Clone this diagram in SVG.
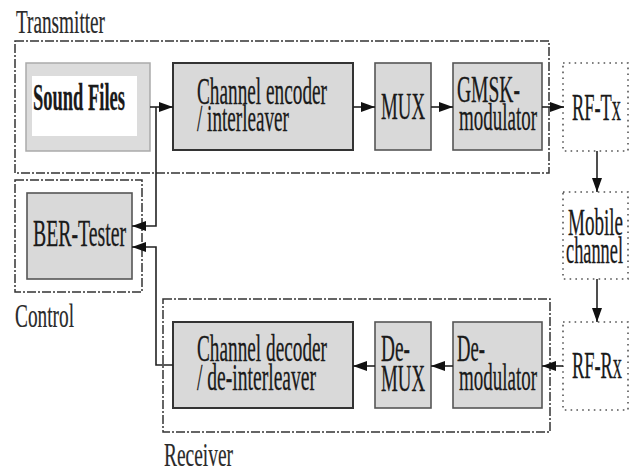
<svg xmlns="http://www.w3.org/2000/svg" width="631" height="470" viewBox="0 0 631 470">
<style>
.grp{fill:none;stroke:#333;stroke-width:1.5;stroke-dasharray:9 2 2 2}
.dot{fill:#fff;stroke:#555;stroke-width:1.6;stroke-dasharray:1.6 4.2}
.blk{fill:#d9d9d9;stroke:#555;stroke-width:1.6}
.blk2{fill:#d9d9d9;stroke:#333;stroke-width:2}
.t{font-family:"Liberation Serif","Times New Roman",serif;font-size:37px;fill:#1a1a1a;stroke:#1a1a1a;stroke-width:0.3}
.lbl{font-family:"Liberation Serif","Times New Roman",serif;font-size:33px;fill:#2a2a2a;stroke:#2a2a2a;stroke-width:0.2}
.ln{fill:none;stroke:#222;stroke-width:1.6}
</style>
<defs>
<marker id="ah" viewBox="0 0 14 10" refX="14" refY="5" markerWidth="14" markerHeight="10" markerUnits="userSpaceOnUse" orient="auto">
<path d="M0,0 L14,5 L0,10 Z" fill="#111"/>
</marker>
</defs>
<rect width="631" height="470" fill="#fff"/>

<g id="transmitter">
<rect class="grp" x="15" y="41" width="534" height="132"/>
<text class="lbl" x="16" y="33" textLength="89" lengthAdjust="spacingAndGlyphs">Transmitter</text>
</g>
<g id="control">
<rect class="grp" x="15" y="180" width="127" height="112"/>
<text class="lbl" x="15" y="327" textLength="59" lengthAdjust="spacingAndGlyphs">Control</text>
</g>
<g id="receiver">
<rect class="grp" x="163" y="299" width="387" height="133"/>
<text class="lbl" x="164" y="466" textLength="69" lengthAdjust="spacingAndGlyphs">Receiver</text>
</g>

<g id="sound-files">
<rect x="26" y="63" width="124" height="88" fill="#dcdcdc" stroke="#aaa" stroke-width="1.5"/>
<rect x="32" y="76" width="105" height="60" fill="#fff"/>
<text class="t" x="33" y="110" font-weight="bold" font-size="37" textLength="92" lengthAdjust="spacingAndGlyphs">Sound Files</text>
</g>
<g id="channel-encoder">
<rect class="blk2" x="173" y="63" width="180" height="87"/>
<text class="t" x="197" y="104" textLength="130" lengthAdjust="spacingAndGlyphs">Channel encoder</text>
<text class="t" x="197" y="131" textLength="92" lengthAdjust="spacingAndGlyphs">/ interleaver</text>
</g>
<g id="mux">
<rect class="blk" x="375" y="63" width="56" height="87"/>
<text class="t" x="381" y="119" font-size="38" textLength="44" lengthAdjust="spacingAndGlyphs">MUX</text>
</g>
<g id="gmsk-modulator">
<rect class="blk" x="453" y="63" width="89" height="87"/>
<text class="t" x="457" y="102" textLength="63" lengthAdjust="spacingAndGlyphs">GMSK-</text>
<text class="t" x="459" y="130" textLength="78" lengthAdjust="spacingAndGlyphs">modulator</text>
</g>
<g id="rf-tx">
<rect class="dot" x="563" y="63" width="65" height="88"/>
<text class="t" x="572" y="120" textLength="49" lengthAdjust="spacingAndGlyphs">RF-Tx</text>
</g>
<g id="mobile-channel">
<rect class="dot" x="563" y="192" width="65" height="87"/>
<text class="t" x="568" y="235" textLength="55" lengthAdjust="spacingAndGlyphs">Mobile</text>
<text class="t" x="566" y="263" textLength="57" lengthAdjust="spacingAndGlyphs">channel</text>
</g>
<g id="rf-rx">
<rect class="dot" x="563" y="322" width="65" height="88"/>
<text class="t" x="572" y="378" textLength="50" lengthAdjust="spacingAndGlyphs">RF-Rx</text>
</g>
<g id="ber-tester">
<rect class="blk" x="27" y="193" width="105" height="86"/>
<text class="t" x="33" y="246" font-size="38" textLength="93" lengthAdjust="spacingAndGlyphs">BER-Tester</text>
</g>
<g id="channel-decoder">
<rect class="blk2" x="173" y="322" width="180" height="86"/>
<text class="t" x="197" y="361" textLength="130" lengthAdjust="spacingAndGlyphs">Channel decoder</text>
<text class="t" x="197" y="390" textLength="119" lengthAdjust="spacingAndGlyphs">/ de-interleaver</text>
</g>
<g id="de-mux">
<rect class="blk" x="375" y="322" width="56" height="86"/>
<text class="t" x="381" y="361" textLength="29" lengthAdjust="spacingAndGlyphs">De-</text>
<text class="t" x="381" y="391" font-size="38" textLength="44" lengthAdjust="spacingAndGlyphs">MUX</text>
</g>
<g id="demodulator">
<rect class="blk" x="453" y="322" width="89" height="86"/>
<text class="t" x="457" y="361" textLength="28" lengthAdjust="spacingAndGlyphs">De-</text>
<text class="t" x="459" y="390" textLength="78" lengthAdjust="spacingAndGlyphs">modulator</text>
</g>

<g id="connectors">
<path class="ln" d="M150,107 H173" marker-end="url(#ah)"/>
<path class="ln" d="M353,107 H375" marker-end="url(#ah)"/>
<path class="ln" d="M431,107 H453" marker-end="url(#ah)"/>
<path class="ln" d="M542,107 H564" marker-end="url(#ah)"/>
<path class="ln" d="M597,151 V192" marker-end="url(#ah)"/>
<path class="ln" d="M597,279 V322" marker-end="url(#ah)"/>
<path class="ln" d="M563,366 H542" marker-end="url(#ah)"/>
<path class="ln" d="M453,366 H431" marker-end="url(#ah)"/>
<path class="ln" d="M375,366 H353" marker-end="url(#ah)"/>
<path class="ln" d="M156,107 V226 H132" marker-end="url(#ah)"/>
<path class="ln" d="M173,365 H156 V247 H132" marker-end="url(#ah)"/>
</g>
</svg>
